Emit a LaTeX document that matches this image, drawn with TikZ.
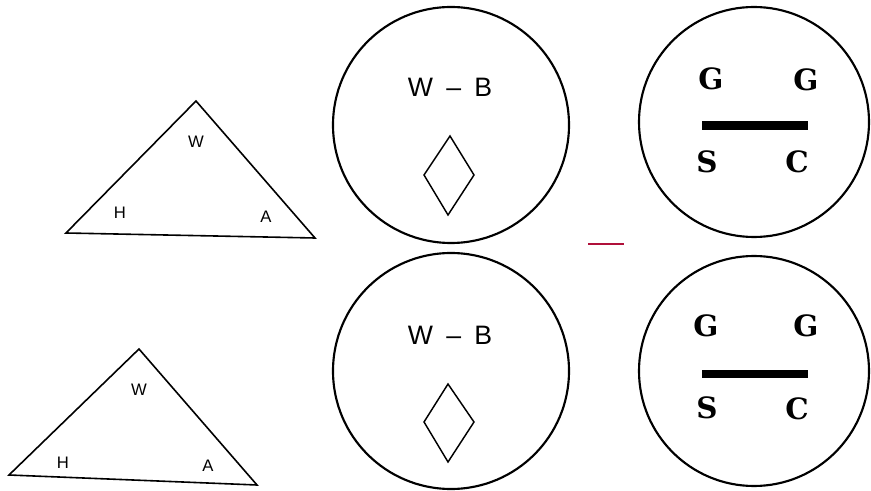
\documentclass[tikz,border=0pt]{standalone}
\usepackage{fontspec}
\setmainfont{Liberation Sans}
\newfontfamily\glyphfont{DejaVu Serif}
\usetikzlibrary{positioning,calc}
\definecolor{markred}{HTML}{B0103A}

\begin{document}
\begin{tikzpicture}[x=0.75pt, y=-0.75pt,
  tri/.style={draw, line width=1.2pt, line join=miter},
  ring/.style={draw, line width=1.6pt},
  gem/.style={draw, line width=1.1pt},
  corner/.style={font=\fontsize{12.5}{14}\selectfont, inner sep=0pt},
  pairlbl/.style={font=\fontsize{20}{22}\selectfont, inner sep=0pt},
  letter/.style={font=\glyphfont\bfseries\fontsize{22}{24}\selectfont, inner sep=0pt},
  bar/.style={line width=6.4pt}]
\useasboundingbox (0,0) rectangle (871,491);
% triangles
\coordinate (t1w) at (196,101);
\coordinate (t1h) at (66,233);
\coordinate (t1a) at (315,238);
\draw[tri] (t1w) -- (t1h) -- (t1a) -- cycle;
\node[corner] (w1) at (196,142) {W};
\node[corner] (h1) at (120,213) {H};
\node[corner] (a1) at (266,217) {A};
\coordinate (t2w) at (139,349);
\coordinate (t2h) at (9,475);
\coordinate (t2a) at (257,485);
\draw[tri] (t2w) -- (t2h) -- (t2a) -- cycle;
\node[corner] (w2) at (139,390) {W};
\node[corner] (h2) at (63,463) {H};
\node[corner] (a2) at (208,466) {A};
% middle circles
\draw[ring] (451,125) circle (118);
\node[pairlbl] (wb1) at (450,87) {W\enspace--\enspace B};
\draw[gem] (450,136) -- (474,175) -- (448,215) -- (424,175) -- cycle;
\draw[ring] (451,371) circle (118);
\node[pairlbl] (wb2) at (450,335) {W\enspace--\enspace B};
\draw[gem] (448,384) -- (474,422) -- (448,462) -- (424,422) -- cycle;
% right circles
\draw[ring] (754,122) circle (115);
\node[letter] (g1l) at (711,79) {G};
\node[letter] (g1r) at (806,80) {G};
\node[letter] (s1) at (707,162) {S};
\node[letter] (c1) at (797,162) {C};
\coordinate (b1l) at (702,125.5);
\coordinate (b1r) at (808,125.5);
\draw[bar] (b1l) -- (b1r);
\draw[ring] (754,371) circle (115);
\node[letter] (g2l) at (706,326) {G};
\node[letter] (g2r) at (806,326) {G};
\node[letter] (s2) at (707,408) {S};
\node[letter] (c2) at (797,409) {C};
\coordinate (b2l) at (702,374);
\coordinate (b2r) at (808,374);
\draw[bar] (b2l) -- (b2r);
% stray mark
\coordinate (m1) at (588,244);
\coordinate (m2) at (624,244);
\draw[markred, line width=1.3pt] (m1) -- (m2);
\end{tikzpicture}
\end{document}
